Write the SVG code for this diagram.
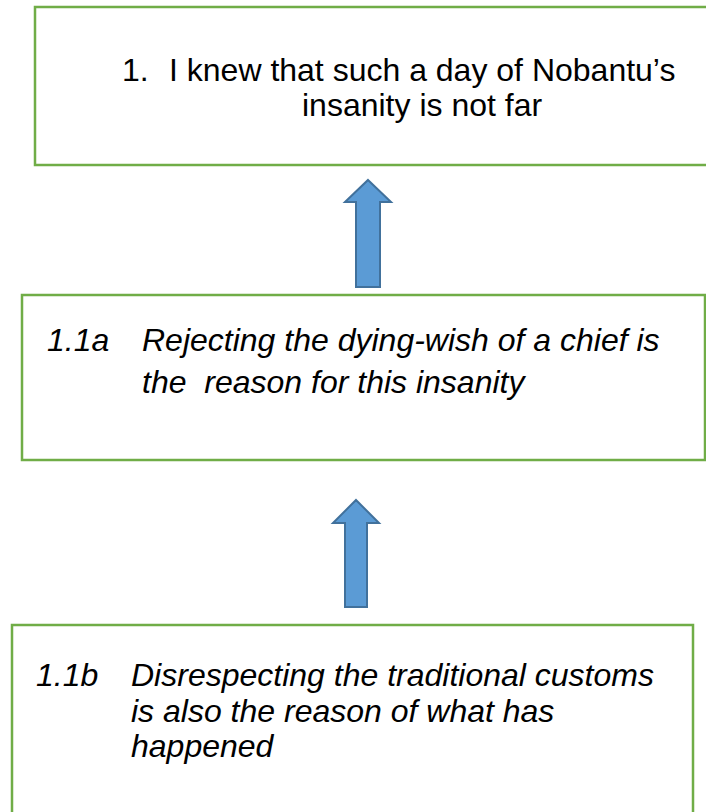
<svg xmlns="http://www.w3.org/2000/svg" width="706" height="812" viewBox="0 0 706 812">
  <style>
    .box { fill: #ffffff; stroke: #70AD47; stroke-width: 2.5; }
    .arrow { fill: #5B9BD5; stroke: #41719C; stroke-width: 2; stroke-linejoin: miter; }
    .t { font-family: "Liberation Sans", Arial, sans-serif; font-size: 32px; fill: #000000; white-space: pre; }
    .i { font-style: italic; }
  </style>
  <rect width="706" height="812" fill="#ffffff"/>

  <g id="node-1">
    <rect class="box" x="35" y="7" width="690" height="158"/>
    <text class="t" x="122" y="81">1.</text>
    <text class="t" x="169" y="81">I knew that such a day of Nobantu’s</text>
    <text class="t" x="302" y="116">insanity is not far</text>
  </g>

  <g id="node-1-1a">
    <rect class="box" x="22" y="295" width="683" height="165"/>
    <text class="t i" x="47" y="351">1.1a</text>
    <text class="t i" x="142" y="351">Rejecting the dying-wish of a chief is</text>
    <text class="t i" x="142" y="393" xml:space="preserve">the  reason for this insanity</text>
  </g>

  <g id="node-1-1b">
    <rect class="box" x="12" y="625" width="681" height="200"/>
    <text class="t i" x="36" y="686">1.1b</text>
    <text class="t i" x="131" y="686">Disrespecting the traditional customs</text>
    <text class="t i" x="131" y="722">is also the reason of what has</text>
    <text class="t i" x="131" y="757">happened</text>
  </g>

  <g id="connectors">
    <path class="arrow" d="M368,180 L391,202 L380,202 L380,287 L356,287 L356,202 L345,202 Z"/>
    <path class="arrow" d="M356,500 L379,523 L367,523 L367,607 L345,607 L345,523 L333,523 Z"/>
  </g>
</svg>
